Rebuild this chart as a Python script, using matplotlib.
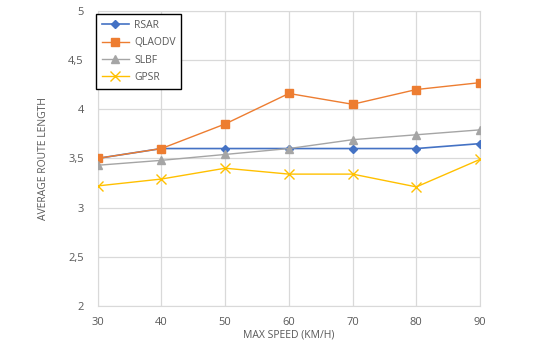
import matplotlib
matplotlib.use("Agg")
import matplotlib.pyplot as plt
from matplotlib.ticker import FuncFormatter

speeds = [30, 40, 50, 60, 70, 80, 90]
rsar = [3.50, 3.60, 3.60, 3.60, 3.60, 3.60, 3.65]
qlaodv = [3.50, 3.60, 3.85, 4.16, 4.05, 4.20, 4.27]
slbf = [3.43, 3.48, 3.54, 3.60, 3.69, 3.74, 3.79]
gpsr = [3.22, 3.29, 3.40, 3.34, 3.34, 3.21, 3.49]

plt.rcParams["font.family"] = ["Open Sans", "DejaVu Sans"]

fig = plt.figure(figsize=(5.4, 3.5), dpi=100)
ax = fig.add_axes([0.181, 0.126, 0.708, 0.843])

ax.plot(speeds, rsar, color="#4472c4", marker="D", ms=4.5, lw=1.2, label="RSAR", zorder=3)
ax.plot(speeds, qlaodv, color="#ed7d31", marker="s", ms=6, lw=1.0, label="QLAODV", zorder=3)
ax.plot(speeds, slbf, color="#a5a5a5", marker="^", ms=6, lw=1.0, label="SLBF", zorder=3)
ax.plot(speeds, gpsr, color="#ffc000", marker="x", ms=7, mew=1.0, lw=1.0, label="GPSR", zorder=3)

ax.set_xlim(30, 90)
ax.set_ylim(2, 5)
ax.set_xticks(speeds)
ax.set_yticks([2, 2.5, 3, 3.5, 4, 4.5, 5])
ax.yaxis.set_major_formatter(FuncFormatter(lambda v, p: f"{v:g}".replace(".", ",")))
ax.grid(True, color="#d9d9d9", lw=0.9)
ax.set_axisbelow(True)
for s in ax.spines.values():
    s.set_color("#d9d9d9")
ax.tick_params(length=0, labelsize=8, labelcolor="#595959")
ax.tick_params(axis="x", pad=8)
ax.tick_params(axis="y", pad=10)

ax.set_xlabel("MAX SPEED (KM/H)", fontsize=7.5, color="#595959", labelpad=1)
ax.set_ylabel("AVERAGE ROUTE LENGTH", fontsize=7.5, color="#595959", labelpad=14)

# legend box sits over the top-left corner of the plot
leg = ax.legend(loc="upper left", bbox_to_anchor=(96 / 540, 1 - 14 / 350),
                bbox_transform=fig.transFigure, borderaxespad=0,
                fontsize=7.5, frameon=True, fancybox=False,
                edgecolor="black", framealpha=1, handlelength=2.6,
                handletextpad=0.5, borderpad=0.55, labelspacing=0.62)
leg.get_frame().set_linewidth(1.0)
for t in leg.get_texts():
    t.set_color("#595959")

fig.savefig("out.png", dpi=100)
